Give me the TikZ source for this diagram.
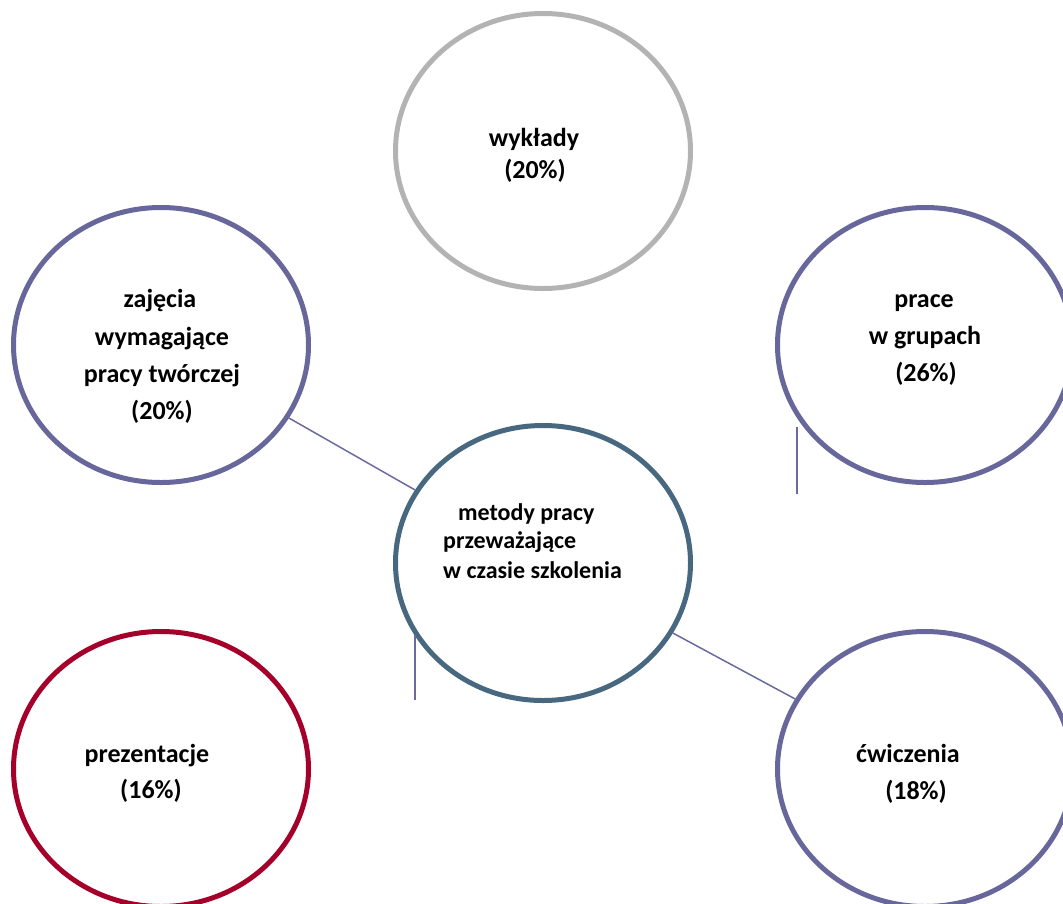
\documentclass[tikz,border=0pt]{standalone}
\usepackage{fontspec}
\setmainfont{Carlito}
\usetikzlibrary{shapes.geometric}
\definecolor{ringpurple}{HTML}{67679B}
\definecolor{ringgray}{HTML}{B3B3B3}
\definecolor{ringteal}{HTML}{48687F}
\definecolor{ringred}{HTML}{A5002A}
\definecolor{linkpurple}{HTML}{6A6A9E}
\begin{document}
\begin{tikzpicture}[x=1pt,y=-1pt,
  ring/.style={ellipse, draw, line width=5pt, minimum width=295pt, minimum height=275pt, inner sep=0pt},
  lbl/.style={anchor=base, inner sep=0pt, font=\fontsize{26}{31}\selectfont\bfseries},
  clbl/.style={anchor=base west, inner sep=0pt, font=\fontsize{24}{29}\selectfont\bfseries},
  link/.style={draw=linkpurple, line width=1.5pt}]
\useasboundingbox (0,0) rectangle (1063,903);
\clip (0,0) rectangle (1063,903);
% rings
\node[ring, draw=ringgray]   (wyk) at (543,151) {};
\node[ring, draw=ringpurple] (zaj) at (161,345) {};
\node[ring, draw=ringpurple] (pra) at (925,345) {};
\node[ring, draw=ringteal]   (cen) at (543,563) {};
\node[ring, draw=ringred]    (pre) at (161,769) {};
\node[ring, draw=ringpurple] (cwi) at (925,769) {};
% connectors
\draw[link] (zaj) -- (cen);
\draw[link] (cen) -- (cwi);
\coordinate (va) at (797,427);
\coordinate (vb) at (797,494);
\coordinate (vc) at (415,635);
\coordinate (vd) at (415,700);
\draw[link] (va) -- (vb);
\draw[link] (vc) -- (vd);
% labels
\node[lbl] (wyk1) at (534,146) {wykłady};
\node[lbl] (wyk2) at (535,178) {(20\%)};
\node[lbl] (zaj1) at (160,307) {zajęcia};
\node[lbl] (zaj2) at (162,345) {wymagające};
\node[lbl] (zaj3) at (162,382) {pracy twórczej};
\node[lbl] (zaj4) at (162,419) {(20\%)};
\node[lbl] (pra1) at (924,307) {prace};
\node[lbl] (pra2) at (925,344) {w grupach};
\node[lbl] (pra3) at (926,381) {(26\%)};
\node[clbl] (cen1) at (458,520) {metody pracy};
\node[clbl] (cen2) at (443,548) {przeważające};
\node[clbl] (cen3) at (443,578) {w czasie szkolenia};
\node[lbl] (pre1) at (147,762) {prezentacje};
\node[lbl] (pre2) at (151,798) {(16\%)};
\node[lbl] (cwi1) at (908,762) {ćwiczenia};
\node[lbl] (cwi2) at (916,799) {(18\%)};
\end{tikzpicture}
\end{document}
